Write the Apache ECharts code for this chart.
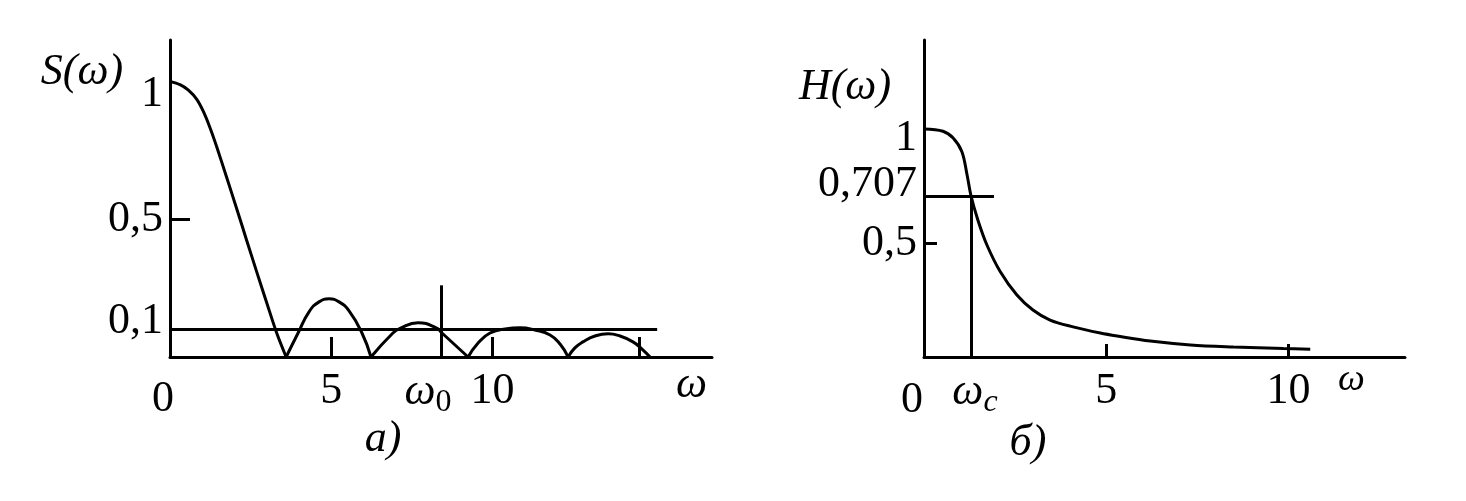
<!DOCTYPE html>
<html><head><meta charset="utf-8">
<script src="https://cdn.jsdelivr.net/npm/echarts@6/dist/echarts.min.js"></script>
<style>html,body{margin:0;padding:0;background:#fff}#c{width:1466px;height:501px}</style>
</head><body><div id="c"></div>
<script>
// ---------- Panel a): spectrum S(ω) ----------
const sMainLobe = [[0,1.0],[0.31,0.988],[0.57,0.968],[0.83,0.935],[1.03,0.892],[1.24,0.832],[1.45,0.762],[1.76,0.650],[2.07,0.537],[2.38,0.422],[2.69,0.308],[3.0,0.196],[3.31,0.086],[3.6,0]];
const sLobe1 = [[3.6,0],[3.97,0.087],[4.31,0.164],[4.62,0.200],[4.93,0.211],[5.24,0.200],[5.55,0.167],[5.95,0.087],[6.23,0]];
const sLobe2 = [[6.23,0],[6.91,0.087],[7.13,0.104],[7.69,0.124],[8.25,0.106],[8.43,0.087],[9.24,0]];
const sLobe3 = [[9.24,0],[9.55,0.051],[9.92,0.087],[10.39,0.102],[10.85,0.106],[11.31,0.098],[11.78,0.080],[12.09,0.047],[12.34,0]];
const sLobe4 = [[12.34,0],[12.55,0.033],[12.80,0.055],[13.17,0.076],[13.58,0.084],[13.95,0.076],[14.35,0.055],[14.63,0.029],[14.88,0]];
const sLevel = 0.1, sLevelEnd = 15.1;
const omega0 = 8.4, omega0Top = 0.26;
const sXLabelValues = [0, 5, 10];
const sXTickValues = [5, 10, 14.55];
const sYLabelValues = [0.1, 0.5, 1];
const sYLabelTexts = ['0,1', '0,5', '1'];
const sYTickValues = [0.5];

// ---------- Panel б): filter H(ω) ----------
const hCurve = [[0,1.0],[0.52,0.99],[0.80,0.96],[1.04,0.90],[1.18,0.80],[1.29,0.707],[1.48,0.60],[1.73,0.49],[2.09,0.375],[2.55,0.272],[2.99,0.206],[3.46,0.162],[4.09,0.132],[4.84,0.105],[5.30,0.092],[6.21,0.070],[7.31,0.053],[8.49,0.044],[9.86,0.037],[10.6,0.034]];
const hLevel = 0.707, hLevelEnd = 1.92;
const omegaC = 1.29;
const hXLabelValues = [0, 5, 10];
const hXTickValues = [5, 10];
const hYLabelValues = [0.5, 0.707, 1];
const hYLabelTexts = ['0,5', '0,707', '1'];
const hYTickValues = [0.5];

const FONT = '"Liberation Serif", "Times New Roman", serif';
const FS = 44;
const BLACK = '#000';
const LW = 3;

function pick(vals, texts, v) {
  for (let i = 0; i < vals.length; i++) if (Math.abs(vals[i] - v) < 1e-6) return texts[i];
  return '';
}
const richBase = {fontFamily: FONT, fontSize: FS, color: BLACK};
const rich = {
  n: Object.assign({}, richBase),
  dn26: Object.assign({padding: [26, 0, 0, 0]}, richBase),
  dn18: Object.assign({padding: [18, 0, 0, 0]}, richBase),
  up16: Object.assign({padding: [0, 0, 16, 0]}, richBase),
  up22: Object.assign({padding: [0, 0, 22, 0]}, richBase),
  l14: Object.assign({padding: [8, 14, 0, 0]}, richBase),
  l24: Object.assign({padding: [9, 24, 0, 0]}, richBase),
  w: {fontFamily: FONT, fontSize: FS, fontStyle: 'italic', color: BLACK},
  sub: {fontFamily: FONT, fontSize: 32, color: BLACK, padding: [22, 0, 0, 0]},
  subi: {fontFamily: FONT, fontSize: 32, fontStyle: 'italic', color: BLACK, padding: [22, 0, 0, 0]}
};

function xAxisCfg(idx, max, labelVals, tickVals, tickLen, zeroStyle, nameGap, nameLH, nameSize) {
  return {
    type: 'value', gridIndex: idx, min: 0, max: max,
    axisLine: {show: true, onZero: false, lineStyle: {color: BLACK, width: LW}},
    splitLine: {show: false},
    axisTick: {show: true, inside: true, length: tickLen, customValues: tickVals, lineStyle: {color: BLACK, width: LW}},
    axisLabel: {
      customValues: labelVals, margin: 12, color: BLACK, fontFamily: FONT, fontSize: FS,
      formatter: v => (v === 0 ? '{' + zeroStyle + '|0}' : '{n|' + v + '}'), rich: rich
    },
    name: 'ω', nameLocation: 'end', nameGap: nameGap,
    nameTextStyle: {fontFamily: FONT, fontStyle: 'italic', fontSize: nameSize, color: BLACK,
      verticalAlign: 'top', lineHeight: nameLH}
  };
}
function yAxisCfg(idx, max, labelVals, labelTexts, tickVals, tickLen, styles) {
  return {
    type: 'value', gridIndex: idx, min: 0, max: max,
    axisLine: {show: true, onZero: false, lineStyle: {color: BLACK, width: LW}},
    splitLine: {show: false},
    axisTick: {show: true, inside: true, length: tickLen, customValues: tickVals, lineStyle: {color: BLACK, width: LW}},
    axisLabel: {
      customValues: labelVals, margin: 7, color: BLACK, fontFamily: FONT, fontSize: FS,
      formatter: v => {
        const t = pick(labelVals, labelTexts, v);
        const s = pick(labelVals, styles, v) || 'n';
        return '{' + s + '|' + t + '}';
      }, rich: rich
    }
  };
}
const lineStyle = {color: BLACK, width: LW};
function curve(data, xi, smooth, markLine) {
  const s = {
    type: 'line', data: data, xAxisIndex: xi, yAxisIndex: xi, showSymbol: false, symbol: 'none',
    smooth: smooth, lineStyle: lineStyle, silent: true, z: 3
  };
  if (markLine) s.markLine = markLine;
  return s;
}
function segLine(p1, p2, label) {
  const item = [{coord: p1}, {coord: p2}];
  if (label) item[0].label = label;
  return item;
}

const option = {
  backgroundColor: '#fff',
  animation: false,
  grid: [
    {left: 170, top: 40, width: 542, height: 317},
    {left: 924, top: 40, width: 481, height: 317}
  ],
  xAxis: [
    xAxisCfg(0, 16.8, sXLabelValues, sXTickValues, 20, 'l14', -36, 56, FS),
    xAxisCfg(1, 13.2, hXLabelValues, hXTickValues, 13, 'l24', -67, 46, 38)
  ],
  yAxis: [
    yAxisCfg(0, 1.15, sYLabelValues, sYLabelTexts, sYTickValues, 20, ['up16', 'n', 'dn26']),
    yAxisCfg(1, 1.39, hYLabelValues, hYLabelTexts, hYTickValues, 13, ['n', 'up22', 'dn18'])
  ],
  series: [
    curve(sMainLobe, 0, 0.3, {
      silent: true, symbol: ['none', 'none'], lineStyle: {color: BLACK, width: LW, type: 'solid'},
      label: {show: false}, emphasis: {disabled: true},
      data: [
        segLine([0, sLevel], [sLevelEnd, sLevel]),
        segLine([omega0, 0], [omega0, omega0Top], {
          show: true, position: 'start', distance: 8, offset: [-13, 0],
          formatter: '{w|ω}{sub|0}', rich: rich
        })
      ]
    }),
    curve(sLobe1, 0, 0.5),
    curve(sLobe2, 0, 0.5),
    curve(sLobe3, 0, 0.5),
    curve(sLobe4, 0, 0.5),
    curve(hCurve, 1, 0.35, {
      silent: true, symbol: ['none', 'none'], lineStyle: {color: BLACK, width: LW, type: 'solid'},
      label: {show: false}, emphasis: {disabled: true},
      data: [
        segLine([0, hLevel], [hLevelEnd, hLevel]),
        segLine([omegaC, 0], [omegaC, hLevel], {
          show: true, position: 'start', distance: 8, offset: [4, 0],
          formatter: '{w|ω}{subi|c}', rich: rich
        })
      ]
    })
  ],
  graphic: [
    {type: 'text', x: 82, y: 72, style: {text: 'S(ω)', font: 'italic 44px ' + FONT, fill: BLACK, align: 'center', verticalAlign: 'middle'}},
    {type: 'text', x: 845, y: 87, style: {text: 'H(ω)', font: 'italic 44px ' + FONT, fill: BLACK, align: 'center', verticalAlign: 'middle'}},
    {type: 'text', x: 383, y: 439, style: {text: 'a)', font: 'italic 44px ' + FONT, fill: BLACK, align: 'center', verticalAlign: 'middle'}},
    {type: 'text', x: 1028, y: 443, style: {text: 'б)', font: 'italic 44px ' + FONT, fill: BLACK, align: 'center', verticalAlign: 'middle'}}
  ]
};
const chart = echarts.init(document.getElementById('c'), null, {renderer: 'canvas'});
chart.setOption(option);
</script></body></html>
